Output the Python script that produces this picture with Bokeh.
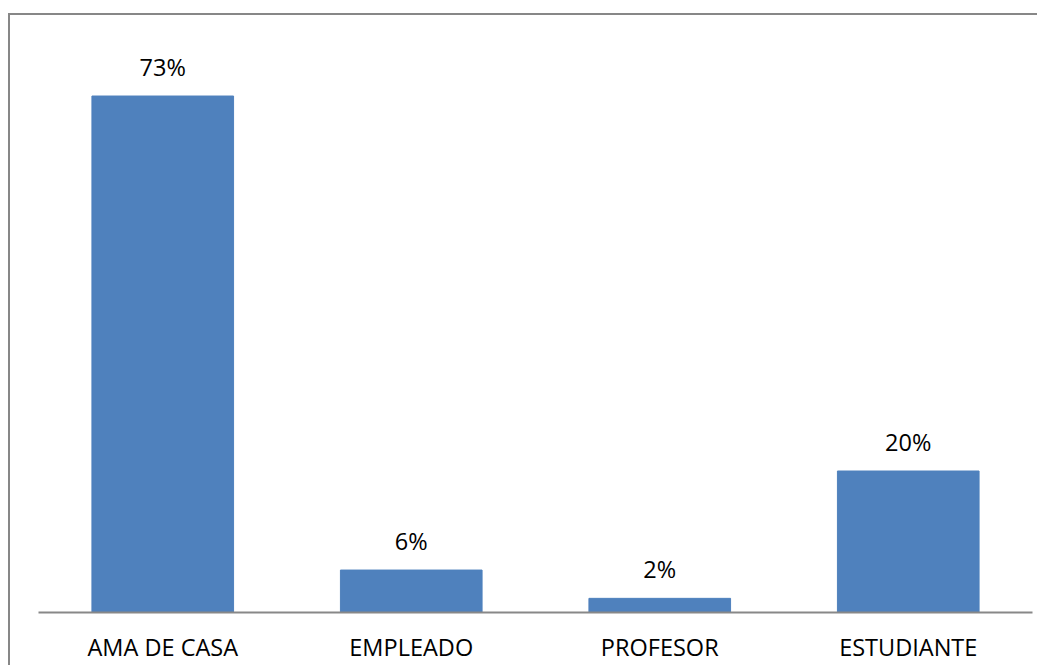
from bokeh.plotting import figure
from bokeh.models import ColumnDataSource, FactorRange, Range1d
from bokeh.core.properties import value
from bokeh.embed import file_html
from bokeh.resources import INLINE

categories = ["AMA DE CASA", "EMPLEADO", "PROFESOR", "ESTUDIANTE"]
percentages = [73, 6, 2, 20]
labels = ["73%", "6%", "2%", "20%"]

src = ColumnDataSource(dict(cat=categories, val=percentages, lab=labels))

FONT = "Open Sans"

p = figure(
    x_range=FactorRange(*categories),
    y_range=Range1d(0, 80),
    frame_width=994,
    frame_height=566,
    min_border_left=28,
    min_border_right=5,
    min_border_top=31,
    min_border_bottom=42,
    output_backend="svg",
    toolbar_location=None,
    y_axis_location=None,
    styles={
        "border-left": "2px solid #878787",
        "border-top": "2px solid #878787",
        "margin-top": "13px",
        "margin-left": "8px",
    },
)

p.vbar(x="cat", top="val", width=0.57, source=src, color="#4F81BD")
p.text(x="cat", y="val", text="lab", source=src, text_align="center",
       text_baseline="alphabetic", y_offset=-29, text_font=value(FONT),
       text_font_size="23.5px", text_color="#000000")

p.xgrid.visible = False
p.ygrid.visible = False
p.outline_line_color = None
p.background_fill_color = "white"
p.border_fill_color = "white"

ax = p.xaxis[0]
ax.axis_line_color = "#888888"
ax.axis_line_width = 2
ax.major_tick_line_color = None
ax.minor_tick_line_color = None
ax.major_label_text_font = FONT
ax.major_label_text_font_size = "23.5px"
ax.major_label_text_color = "#000000"
ax.major_label_standoff = 12

open("out.html", "w").write(file_html(p, INLINE))
